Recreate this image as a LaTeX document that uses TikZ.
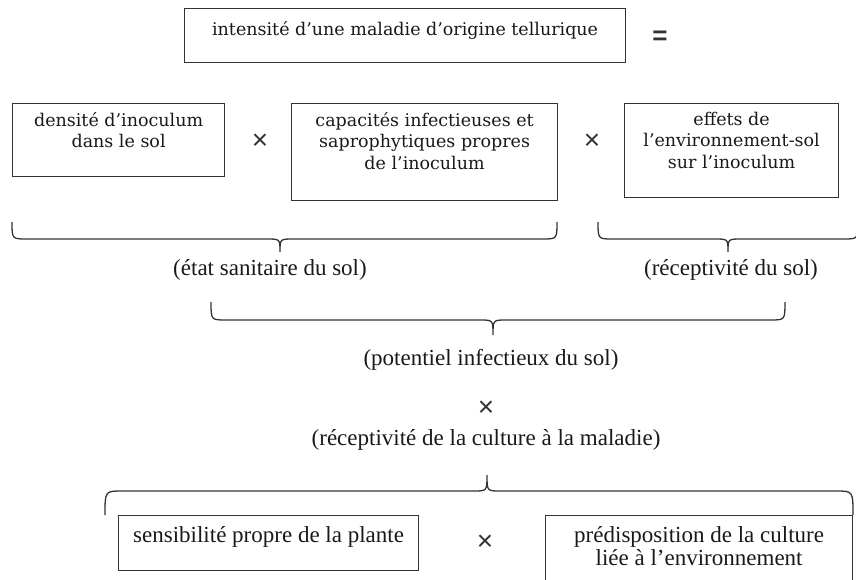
\documentclass[tikz,border=0pt]{standalone}
\usepackage{fontspec}
\setmainfont{DejaVu Serif}
\newfontfamily\lblfont{Liberation Serif}
\newfontfamily\symfont{Liberation Sans}
\begin{document}
\begin{tikzpicture}[x=1pt,y=-1pt,
  box/.style={draw=black!80, line width=1.2pt, anchor=north west, inner sep=0pt},
  boxtext/.style={anchor=north, align=center, inner sep=0pt, text=black!90,
    font=\fontsize{17.5}{21.5}\selectfont},
  lbl/.style={inner sep=0pt, text=black!90, font=\lblfont\fontsize{23}{23}\selectfont},
  bboxtext/.style={anchor=north, align=center, inner sep=0pt, text=black!90,
    font=\lblfont\fontsize{23}{23}\selectfont},
  op/.style={inner sep=0pt, text=black!80, font=\symfont\fontsize{28}{28}\selectfont},
  brace/.style={draw=black!80, line width=1.3pt}]
\useasboundingbox (0,0) rectangle (856,580);
% top
\node[box, minimum width=441, minimum height=54] (top) at (184,8) {};
\node[boxtext] (toptxt) at ([yshift=-13]top.north) {intensité d’une maladie d’origine tellurique};
\node[op, font=\symfont\bfseries\fontsize{26}{26}\selectfont] (eq) at (660,38) {=};
% row 1
\node[box, minimum width=212, minimum height=73] (b1) at (12,103) {};
\node[boxtext] (b1t) at ([yshift=-9]b1.north) {densité d’inoculum\\dans le sol};
\node[op] (x1) at (260,142) {×};
\node[box, minimum width=266, minimum height=97] (b2) at (291,103) {};
\node[boxtext] (b2t) at ([yshift=-9]b2.north) {capacités infectieuses et\\saprophytiques propres\\de l’inoculum};
\node[op] (x2) at (592,142) {×};
\node[box, minimum width=214, minimum height=94] (b3) at (624,103) {};
\node[boxtext] (b3t) at ([yshift=-9]b3.north) {effets de\\l’environnement-sol\\sur l’inoculum};
% braces row 1
\coordinate (t1) at (280,252);
\draw[brace] (12,222) .. controls (12,239) .. (27,239) -- (267,239) .. controls (280,239) .. (t1)
  .. controls (280,239) .. (293,239) -- (542,239) .. controls (557,239) .. (557,222);
\node[lbl] (l1) at (270,270) {(état sanitaire du sol)};
\coordinate (t2) at (728,252);
\draw[brace] (598,222) .. controls (598,239) .. (613,239) -- (715,239) .. controls (728,239) .. (t2)
  .. controls (728,239) .. (741,239) -- (843,239) .. controls (858,239) .. (858,222);
\node[lbl] (l2) at (731,270) {(réceptivité du sol)};
% brace 3
\coordinate (t3) at (493,335);
\draw[brace] (211,302) .. controls (211,320) .. (226,320) -- (480,320) .. controls (493,320) .. (t3)
  .. controls (493,320) .. (506,320) -- (770,320) .. controls (785,320) .. (785,302);
\node[lbl] (l3) at (491,360) {(potentiel infectieux du sol)};
\node[op] (x3) at (486,409) {×};
\node[lbl] (l4) at (486,440) {(réceptivité de la culture à la maladie)};
% brace 4 (upward)
\coordinate (t4) at (487,475);
\draw[brace] (105,515) .. controls (105,491) .. (122,491) -- (474,491) .. controls (487,491) .. (t4)
  .. controls (487,491) .. (500,491) -- (836,491) .. controls (853,491) .. (853,515);
% bottom row
\node[box, minimum width=300, minimum height=55] (b4) at (118,515) {};
\node[bboxtext] (b4t) at ([yshift=-11]b4.north) {sensibilité propre de la plante};
\node[op] (x4) at (485,543) {×};
\node[box, minimum width=307, minimum height=80] (b5) at (545,515) {};
\node[bboxtext] (b5t) at ([yshift=-11]b5.north) {prédisposition de la culture\\liée à l’environnement};
\end{tikzpicture}
\end{document}
